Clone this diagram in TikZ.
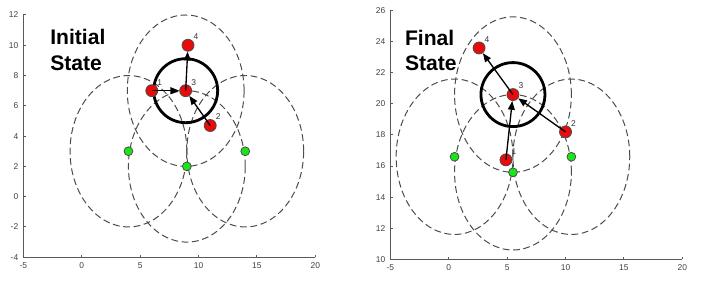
\documentclass[tikz,border=0pt]{standalone}
\usepackage{fontspec}
\setmainfont{Liberation Sans}
\usetikzlibrary{arrows.meta,backgrounds}

\definecolor{beacongreen}{RGB}{25,230,25}
\definecolor{nodered}{RGB}{235,10,10}

\tikzset{
    axisline/.style={draw=black!65, line width=0.25mm},
    ticklabel/.style={text=black!75, font=\fontsize{6}{7}\selectfont, inner sep=1.2mm},
    beacon/.style={circle, draw=black!70, fill=beacongreen, minimum size=2.2mm, inner sep=0pt, line width=0.2mm},
    agent/.style={circle, draw=black!70, fill=nodered, minimum size=3mm, inner sep=0pt, line width=0.2mm},
    idlabel/.style={text=black!80, font=\fontsize{6}{7}\selectfont, inner sep=0.2mm},
    rangering/.style={draw=black!70, line width=0.25mm, dash pattern=on 1.7mm off 0.9mm},
    zone/.style={draw=black, line width=0.7mm},
    move/.style={-{Triangle[length=2.2mm,width=1.7mm]}, line width=0.33mm},
    statetitle/.style={font=\bfseries\fontsize{15}{18}\selectfont, align=left, inner sep=0pt, anchor=north west}
}

\begin{document}
\begin{tikzpicture}
    \useasboundingbox (0,0) rectangle (176mm,72mm);

    % initial state plot
    \begin{scope}[shift={(20.43mm,22.83mm)}, x=2.92mm, y=3.785mm]
        \draw[axisline] (-5,12) -- (-5,-4) -- (20,-4);
        % y ticks
        \foreach \y in {-4,-2,...,12} {
            \draw[axisline] (-5,\y) -- ++(0.6mm,0);
            \node[ticklabel, left] at (-5,\y) {\y};
        }
        % x ticks
        \foreach \x in {-5,0,...,20} {
            \draw[axisline] (\x,-4) -- ++(0,0.6mm);
            \node[ticklabel, below] at (\x,-4) {\x};
        }

        \node[beacon] (ia) at (4,3) {};
        \node[beacon] (ib) at (9,2) {};
        \node[beacon] (ic) at (14,3) {};

        \node[agent, label={[idlabel]north east:1}] (i1) at (6,7) {};
        \node[agent, label={[idlabel]north east:2}] (i2) at (11,4.7) {};
        \node[agent, label={[idlabel]north east:3}] (i3) at (8.9,7) {};
        \node[agent, label={[idlabel]north east:4}] (i4) at (9.1,10) {};

        % ranges
        \begin{scope}[on background layer]
            \foreach \c in {ia,ib,ic,i3}
                \draw[rangering] (\c) circle [x radius=5, y radius=5];
            \draw[zone] (i3) circle (8mm);
        \end{scope}

        \draw[move] (i1.center) -- (i3);
        \draw[move] (i2.center) -- (i3);
        \draw[move] (i3.center) -- (i4);
    \end{scope}

    % final state plot
    \begin{scope}[shift={(112.18mm,-31.68mm)}, x=2.92mm, y=3.885mm]
        \draw[axisline] (-5,26) -- (-5,10) -- (20,10);
        % y ticks
        \foreach \y in {10,12,...,26} {
            \draw[axisline] (-5,\y) -- ++(0.6mm,0);
            \node[ticklabel, left] at (-5,\y) {\y};
        }
        % x ticks
        \foreach \x in {-5,0,...,20} {
            \draw[axisline] (\x,10) -- ++(0,0.6mm);
            \node[ticklabel, below] at (\x,10) {\x};
        }

        \node[beacon] (fa) at (0.5,16.6) {};
        \node[beacon] (fb) at (5.5,15.6) {};
        \node[beacon] (fc) at (10.5,16.6) {};

        \node[agent, label={[idlabel]north east:1}] (f1) at (4.9,16.4) {};
        \node[agent, label={[idlabel]north east:2}] (f2) at (10,18.2) {};
        \node[agent, label={[idlabel]north east:3}] (f3) at (5.5,20.6) {};
        \node[agent, label={[idlabel]north east:4}] (f4) at (2.6,23.6) {};

        % ranges
        \begin{scope}[on background layer]
            \foreach \c in {fa,fb,fc,f3}
                \draw[rangering] (\c) circle [x radius=5, y radius=5];
            \draw[zone] (f3) circle (8mm);
        \end{scope}

        \draw[move] (f1.center) -- (f3);
        \draw[move] (f2.center) -- (f3);
        \draw[move] (f3.center) -- (f4);
    \end{scope}

    \node[statetitle] (initialtitle) at (12.5mm,64.7mm) {Initial\\State};
    \node[statetitle] (finaltitle) at (101.2mm,64.5mm) {Final\\State};
\end{tikzpicture}
\end{document}
